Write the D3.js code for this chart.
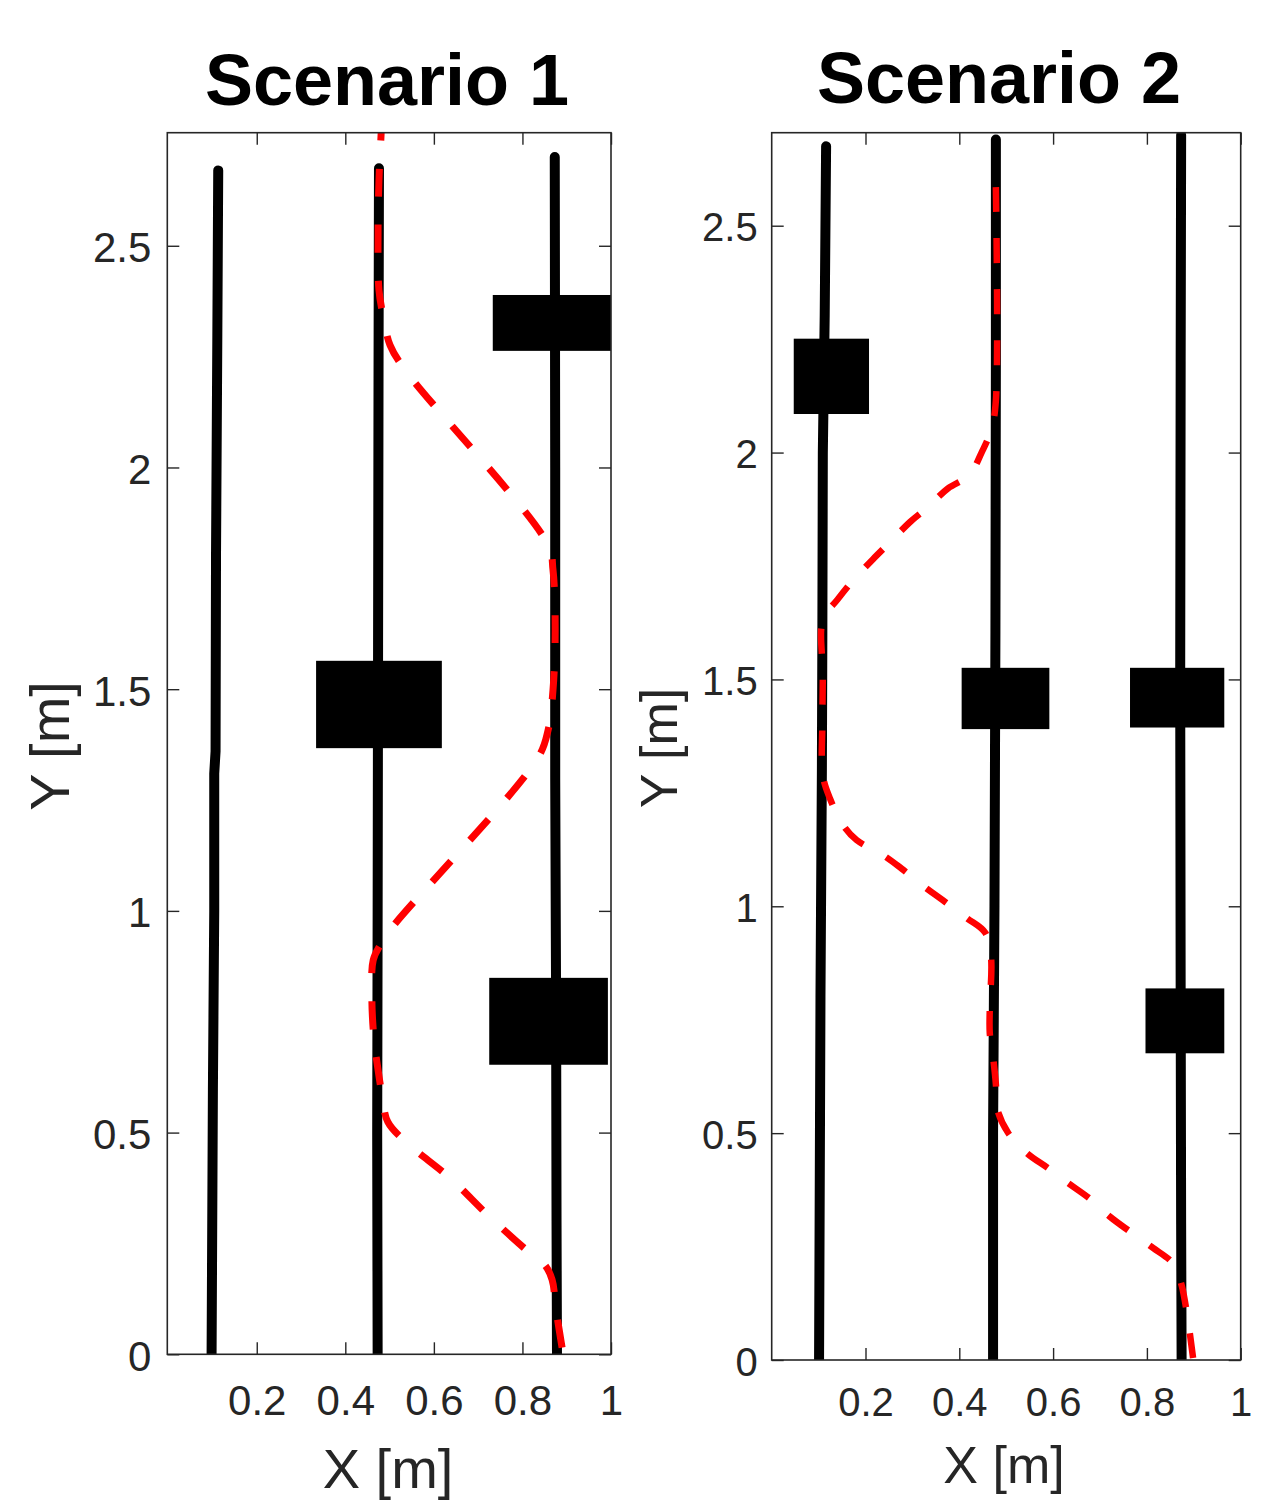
<!DOCTYPE html>
<html>
<head>
<meta charset="utf-8">
<script src="https://cdn.jsdelivr.net/npm/d3@7"></script>
<style>
  html, body { margin: 0; padding: 0; background: #ffffff; }
  svg { display: block; }
  text { font-family: "Liberation Sans", Arial, Helvetica, sans-serif; }
</style>
</head>
<body>
<svg id="chart" width="1270" height="1502"></svg>
<script>
// ---------------- DATA ----------------
const xTickValues = [0.2, 0.4, 0.6, 0.8, 1];
const yTickValues = [0, 0.5, 1, 1.5, 2, 2.5];
const panelTitles = ["Scenario 1", "Scenario 2"];
const xAxisLabel = "X [m]";
const yAxisLabel = "Y [m]";

// Scenario 1: recorded black lane traces [x, y]
const s1LaneA = [[0.113, 2.67], [0.111, 2.30], [0.108, 1.80], [0.107, 1.36], [0.104, 1.31], [0.104, 1.00], [0.101, 0.60], [0.099, 0.20], [0.098, 0.00]];
const s1LaneB = [[0.476, 2.675], [0.475, 2.20], [0.474, 1.60], [0.473, 1.00], [0.472, 0.50], [0.473, 0.00]];
const s1LaneC = [[0.873, 2.70], [0.874, 2.00], [0.874, 1.30], [0.876, 0.80], [0.877, 0.30], [0.878, 0.00]];
// Scenario 1: obstacles [xMin, xMax, yMin, yMax]
const s1Obstacles = [
  [0.733, 1.02, 2.263, 2.389],
  [0.334, 0.618, 1.367, 1.564],
  [0.725, 0.993, 0.653, 0.849]
];
// Scenario 1: planned path (red dashed) [x, y]
const s1Path = [
  [0.483, 2.80], [0.481, 2.755], [0.476, 2.647], [0.474, 2.535], [0.476, 2.400],
  [0.485, 2.344], [0.501, 2.276], [0.535, 2.220], [0.858, 1.825], [0.869, 1.769],
  [0.874, 1.633], [0.869, 1.498], [0.858, 1.408], [0.835, 1.345], [0.501, 0.957],
  [0.479, 0.923], [0.463, 0.889], [0.460, 0.799], [0.465, 0.709], [0.474, 0.641],
  [0.483, 0.585], [0.496, 0.524], [0.540, 0.476], [0.637, 0.397], [0.727, 0.309],
  [0.822, 0.224], [0.851, 0.201], [0.867, 0.168], [0.876, 0.100], [0.892, 0.000]
];

// Scenario 2: recorded black lane traces [x, y]
const s2LaneA = [[0.116, 2.675], [0.113, 2.30], [0.109, 2.00], [0.108, 1.60], [0.107, 1.30], [0.104, 0.80], [0.101, 0.00]];
const s2LaneB = [[0.478, 2.69], [0.478, 2.20], [0.477, 1.60], [0.475, 1.00], [0.472, 0.50], [0.472, 0.00]];
const s2LaneC = [[0.873, 2.70], [0.872, 2.20], [0.871, 1.50], [0.872, 0.80], [0.873, 0.30], [0.874, 0.00]];
// Scenario 2: obstacles [xMin, xMax, yMin, yMax]
const s2Obstacles = [
  [0.047, 0.2075, 2.085, 2.251],
  [0.405, 0.592, 1.3905, 1.5256],
  [0.764, 0.965, 1.394, 1.5256],
  [0.797, 0.965, 0.676, 0.819]
];
// Scenario 2: planned path (red dashed) [x, y]
const s2Path = [
  [0.478, 2.585], [0.478, 2.115], [0.469, 2.054], [0.448, 2.001], [0.421, 1.950],
  [0.376, 1.921], [0.330, 1.877], [0.295, 1.847], [0.248, 1.798], [0.216, 1.765],
  [0.174, 1.719], [0.141, 1.677], [0.109, 1.631], [0.109, 1.514], [0.108, 1.404],
  [0.109, 1.289], [0.124, 1.238], [0.152, 1.179], [0.181, 1.146], [0.237, 1.113],
  [0.277, 1.083], [0.327, 1.042], [0.364, 1.014], [0.416, 0.974], [0.455, 0.942],
  [0.4675, 0.889], [0.465, 0.776], [0.465, 0.720], [0.4725, 0.663], [0.478, 0.608],
  [0.481, 0.553], [0.504, 0.501], [0.544, 0.456], [0.589, 0.423], [0.632, 0.390],
  [0.679, 0.355], [0.721, 0.316], [0.764, 0.283], [0.813, 0.247], [0.856, 0.212],
  [0.874, 0.165], [0.899, 0.000]
];

// ---------------- DRAWING ----------------
const svg = d3.select("#chart");
const AXIS_COLOR = "#262626";

function drawPanel(o) {
  const x = d3.scaleLinear().domain(o.xDomain).range([o.left, o.right]);
  const y = d3.scaleLinear().domain(o.yDomain).range([o.bottom, o.top]);
  const g = svg.append("g");

  const clipId = "clip" + o.id;
  svg.append("defs").append("clipPath").attr("id", clipId)
    .append("rect")
    .attr("x", o.left).attr("y", o.top)
    .attr("width", o.right - o.left).attr("height", o.bottom - o.top);

  const plot = g.append("g").attr("clip-path", `url(#${clipId})`);

  const line = d3.line().x(d => x(d[0])).y(d => y(d[1]));
  const smooth = d3.line().x(d => x(d[0])).y(d => y(d[1])).curve(d3.curveCatmullRom.alpha(0.5));

  // lane traces
  plot.selectAll("path.lane").data(o.lanes).join("path")
    .attr("class", "lane")
    .attr("d", line)
    .attr("fill", "none")
    .attr("stroke", "#000")
    .attr("stroke-width", 10)
    .attr("stroke-linecap", "round")
    .attr("stroke-linejoin", "round");

  // obstacles
  plot.selectAll("rect.obs").data(o.obstacles).join("rect")
    .attr("class", "obs")
    .attr("x", d => x(d[0]))
    .attr("width", d => x(d[1]) - x(d[0]))
    .attr("y", d => y(d[3]))
    .attr("height", d => y(d[2]) - y(d[3]))
    .attr("fill", "#000");

  // planned path
  plot.append("path")
    .datum(o.path)
    .attr("d", smooth)
    .attr("fill", "none")
    .attr("stroke", "#ff0000")
    .attr("stroke-width", o.pathWidth)
    .attr("stroke-dasharray", o.dash)
    .attr("stroke-linecap", "butt");

  // axes (ticks inward on all four sides)
  const tick = 12;
  const ax = g.append("g").attr("transform", `translate(0,${o.bottom})`)
    .call(d3.axisBottom(x).tickValues(xTickValues).tickSizeInner(-tick).tickSizeOuter(0)
      .tickPadding(o.xPad).tickFormat(d => String(d)));
  const axT = g.append("g").attr("transform", `translate(0,${o.top})`)
    .call(d3.axisTop(x).tickValues(xTickValues).tickSizeInner(-tick).tickSizeOuter(0).tickFormat(""));
  const ay = g.append("g").attr("transform", `translate(${o.left},0)`)
    .call(d3.axisLeft(y).tickValues(yTickValues).tickSizeInner(-tick).tickSizeOuter(0)
      .tickPadding(o.yPad).tickFormat(d => String(d)));
  const ayR = g.append("g").attr("transform", `translate(${o.right},0)`)
    .call(d3.axisRight(y).tickValues(yTickValues).tickSizeInner(-tick).tickSizeOuter(0).tickFormat(""));

  [ax, axT, ay, ayR].forEach(a => {
    a.select(".domain").remove();
    a.selectAll("line").attr("stroke", AXIS_COLOR).attr("stroke-width", 1.4);
    a.selectAll("text").attr("fill", AXIS_COLOR).attr("font-size", o.tickFont + "px")
      .attr("font-family", '"Liberation Sans", Arial, sans-serif');
  });
  ay.selectAll("text").attr("dy", "0.38em");

  // box
  g.append("rect")
    .attr("x", o.left).attr("y", o.top)
    .attr("width", o.right - o.left).attr("height", o.bottom - o.top)
    .attr("fill", "none").attr("stroke", AXIS_COLOR).attr("stroke-width", 1.6);

  // title
  g.append("text")
    .attr("x", o.titleX).attr("y", o.titleY)
    .attr("text-anchor", "middle")
    .attr("font-size", "72px").attr("font-weight", "bold").attr("fill", "#000")
    .text(o.title);

  // axis labels
  g.append("text")
    .attr("x", o.xLabelX).attr("y", o.xLabelY)
    .attr("text-anchor", "middle")
    .attr("font-size", o.labelFont + "px").attr("fill", AXIS_COLOR)
    .text(xAxisLabel);
  g.append("text")
    .attr("transform", `translate(${o.yLabelX},${o.yLabelY}) rotate(-90)`)
    .attr("text-anchor", "middle")
    .attr("font-size", o.labelFont + "px").attr("fill", AXIS_COLOR)
    .text(yAxisLabel);
}

drawPanel({
  id: 1, left: 167.3, right: 611, top: 132.7, bottom: 1354.3,
  xDomain: [-0.002, 1], yDomain: [0, 2.755],
  lanes: [s1LaneA, s1LaneB, s1LaneC], obstacles: s1Obstacles, path: s1Path,
  pathWidth: 7, dash: "28,28",
  tickFont: 42, labelFont: 56, xPad: 31, yPad: 16,
  title: panelTitles[0], titleX: 387, titleY: 105,
  xLabelX: 388, xLabelY: 1488, yLabelX: 69, yLabelY: 746
});

drawPanel({
  id: 2, left: 771.7, right: 1240.7, top: 132.7, bottom: 1360,
  xDomain: [0, 1], yDomain: [0, 2.705],
  lanes: [s2LaneA, s2LaneB, s2LaneC], obstacles: s2Obstacles, path: s2Path,
  pathWidth: 6.5, dash: "25,26",
  tickFont: 40, labelFont: 52, xPad: 28, yPad: 14,
  title: panelTitles[1], titleX: 999, titleY: 103,
  xLabelX: 1004, xLabelY: 1483, yLabelX: 677, yLabelY: 748
});
</script>
</body>
</html>
